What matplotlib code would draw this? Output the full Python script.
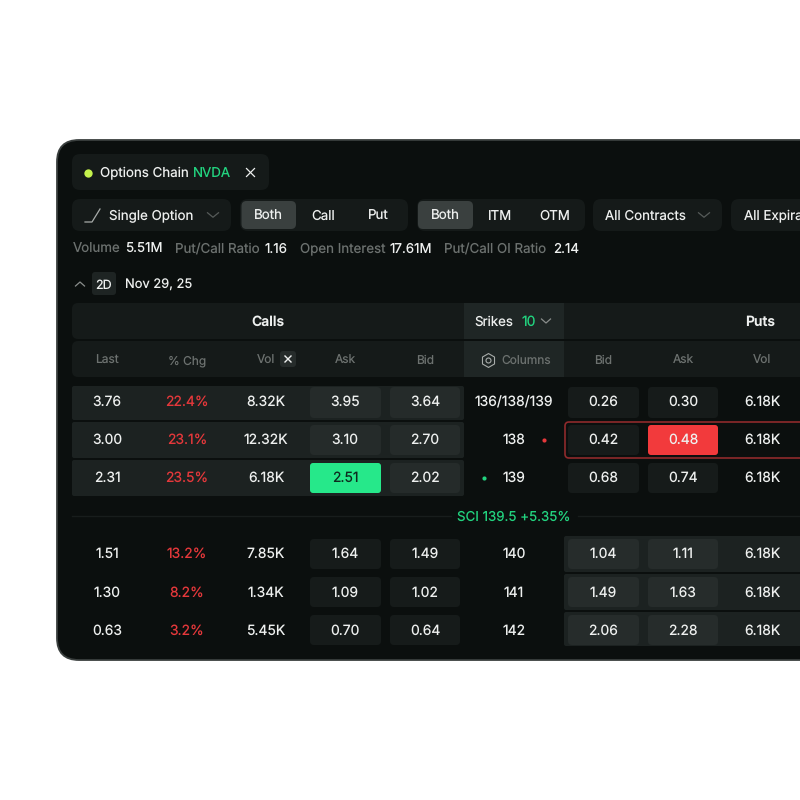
import matplotlib
matplotlib.use('Agg')
import matplotlib.pyplot as plt
from matplotlib.patches import FancyBboxPatch

plt.rcParams['font.family'] = ['Inter', 'DejaVu Sans']
plt.rcParams['text.hinting'] = 'no_hinting'
plt.rcParams['text.hinting_factor'] = 1

# table values
call_last = ['3.76', '3.00', '2.31', '1.51', '1.30', '0.63']
call_chg = ['22.4%', '23.1%', '23.5%', '13.2%', '8.2%', '3.2%']
call_vol = ['8.32K', '12.32K', '6.18K', '7.85K', '1.34K', '5.45K']
call_ask = ['3.95', '3.10', '2.51', '1.64', '1.09', '0.70']
call_bid = ['3.64', '2.70', '2.02', '1.49', '1.02', '0.64']
strikes = ['136/138/139', '138', '139', '140', '141', '142']
put_bid = ['0.26', '0.42', '0.68', '1.04', '1.49', '2.06']
put_ask = ['0.30', '0.48', '0.74', '1.11', '1.63', '2.28']
put_vol = ['6.18K', '6.18K', '6.18K', '6.18K', '6.18K', '6.18K']
call_heads = ['Last', '% Chg', 'Vol', 'Ask', 'Bid']
put_heads = ['Bid', 'Ask', 'Vol']
stat_names = ['Volume', 'Put/Call Ratio', 'Open Interest', 'Put/Call OI Ratio']
stat_vals = ['5.51M', '1.16', '17.61M', '2.14']

BG = '#0b0f0e'
BOX = '#151a19'
BAND = '#1c2221'
WHITE = '#eef0ef'
GREY = '#6c716f'
GREEN = '#22d37f'
RED = '#e5383b'

fs = 10.0
lab = 9.6

fig = plt.figure(figsize=(8, 8), dpi=100, facecolor='white')
ax = fig.add_axes([0, 0, 1, 1])
ax.set_xlim(0, 800)
ax.set_ylim(800, 0)
ax.axis('off')


def box(x0, y0, x1, y1, color, r=4, ec='none', lw=0, z=1):
    p = FancyBboxPatch((x0 + r, y0 + r), x1 - x0 - 2 * r, y1 - y0 - 2 * r,
                       boxstyle='round,pad=%g,rounding_size=%g' % (r, r),
                       fc=color, ec=ec, lw=lw, zorder=z)
    ax.add_patch(p)


def txt(x, y, s, color=WHITE, ha='center', size=fs, weight='normal'):
    ax.text(x, y, s, color=color, ha=ha, va='center_baseline', fontsize=size,
            fontweight=weight, zorder=6)


def chevron(x, y, w=5.5, h=4.5, color='#565b59', up=False):
    d = -h if up else h
    ax.plot([x - w, x, x + w], [y - d / 2, y + d / 2, y - d / 2], color=color, lw=0.9, zorder=6)


def cross(x, y, s=4, color=WHITE, lw=0.9):
    ax.plot([x - s, x + s], [y - s, y + s], color=color, lw=lw, zorder=6)
    ax.plot([x - s, x + s], [y + s, y - s], color=color, lw=lw, zorder=6)


# main panel
box(57, 140, 880, 660, BG, r=22, ec='#3a3f3e', lw=1.3)

# tab
box(72, 154, 269, 190, BOX, r=8)
ax.plot([88], [172.5], 'o', ms=6, color='#c4f24c', mec='none', zorder=6)
txt(100, 172.5, 'Options Chain', ha='left', size=lab)
txt(193, 172.5, 'NVDA', color=GREEN, ha='left', size=lab)
cross(250.5, 172.5)

# filter row
box(72, 199, 231, 231, BOX, r=8)
ax.plot([85, 92, 100], [222, 222, 209], color='#a8acaa', lw=0.9, zorder=6)
txt(109, 215, 'Single Option', ha='left', size=lab)
chevron(213, 215)
box(240, 199, 408, 231, BOX, r=8)
box(241.5, 201, 296, 229, '#3a403f', r=5)
txt(268.5, 215, 'Both', size=lab)
txt(323.5, 215, 'Call', size=lab)
txt(378.5, 215, 'Put', size=lab)
box(417, 199, 585, 231, BOX, r=8)
box(418, 201, 473, 229, '#3a403f', r=5)
txt(445.5, 215, 'Both', size=lab)
txt(500, 215, 'ITM', size=lab)
txt(555, 215, 'OTM', size=lab)
box(593, 199, 722, 231, BOX, r=8)
txt(605, 215, 'All Contracts', ha='left', size=lab)
chevron(704, 215)
box(731, 199, 900, 231, BOX, r=8)
txt(743.5, 215, 'All Expira', ha='left', size=lab)

# stats line
for x, s in zip([73, 175, 300, 444], stat_names):
    txt(x, 247.5, s, color=GREY, ha='left', size=lab)
for x, s in zip([125, 265, 390, 553], stat_vals):
    txt(x, 247.5, s, ha='left', size=lab)

# expiry line
chevron(80, 284, w=4.5, h=4, color='#8a8e8c', up=True)
box(92, 272, 116, 295, '#1e2423', r=3)
txt(104, 284, '2D', size=9)
txt(125, 283.5, 'Nov 29, 25', ha='left', size=9.3)

# header blocks
box(72, 303, 470, 339, BOX, r=6)
box(72, 341, 470, 377, BOX, r=6)
box(558, 303, 880, 339, BOX, r=2)
box(558, 341, 880, 377, BOX, r=2)
ax.fill_between([464, 564], 303, 339, color='#1f2625', lw=0, zorder=2)
ax.fill_between([464, 564], 341, 377, color='#1f2625', lw=0, zorder=2)
txt(268, 321, 'Calls', weight='semibold')
txt(760, 321, 'Puts', weight='semibold')
txt(474, 321, 'Srikes', ha='left', size=lab)
txt(521, 321, '10', color=GREEN, ha='left')
chevron(546, 321, w=4.5, h=4, color='#8a8e8c')

call_x = [107, 187, 266, 345, 425]
put_x = [603.5, 683, 762]
head_y = 359.5
for x, s in zip(call_x, call_heads):
    txt(x, head_y, s, color=GREY, size=8.6)
for x, s in zip(put_x, put_heads):
    txt(x, head_y, s, color=GREY, size=8.6)
box(280, 351, 296, 367, '#262c2b', r=3)
cross(288, 359, s=3, lw=1.0)

# columns button
ax.plot([488], [359.5], marker='h', ms=10, mfc='none', mec='#a8acaa', mew=0.8, zorder=6)
ax.plot([488], [359.5], 'o', ms=3.6, mfc='none', mec='#a8acaa', mew=0.8, zorder=6)
txt(501, 359.5, 'Columns', color=GREY, ha='left', size=8.6)

# row bands, itm calls on top and itm puts at the bottom
band_tops = [386, 422, 460, 536, 574, 612]
band_bots = [420, 458, 496, 572, 610, 646]
for i in range(3):
    box(72, band_tops[i], 464, band_bots[i], BAND, r=2, z=2)
for i in range(3, 6):
    box(564, band_tops[i], 880, band_bots[i], BAND, r=2, z=2)

# separator
ax.plot([72, 451], [516, 516], color='#181d1c', lw=1, zorder=2)
ax.plot([578, 800], [516, 516], color='#181d1c', lw=1, zorder=2)
txt(514, 515.5, 'SCI 139.5 +5.35%', color=GREEN, size=9.6)

# red selected row outline
box(565, 422, 880, 458, 'none', r=4, ec='#8f2a2c', lw=1.2, z=5)

row_y = [401, 439, 477, 553, 592, 630]
cell_tops = [387, 425, 463, 539, 577, 615]
cell_bots = [418, 455, 493, 569, 607, 645]
for i, y in enumerate(row_y):
    itm_call = i < 3
    c_cell = '#252b2a' if itm_call else '#161b1a'
    p_cell = '#161b1a' if itm_call else '#262c2b'
    txt(call_x[0], y, call_last[i])
    txt(call_x[1], y, call_chg[i], color=RED)
    txt(call_x[2], y, call_vol[i])
    # call ask
    if i == 2:
        box(310, cell_tops[i], 381, cell_bots[i], '#26e88a', r=3, z=3)
        txt(call_x[3], y, call_ask[i], color='#0d2a1e')
    else:
        box(310, cell_tops[i], 381, cell_bots[i], c_cell, r=4, z=3)
        txt(call_x[3], y, call_ask[i])
    box(390, cell_tops[i], 460, cell_bots[i], c_cell, r=4, z=3)
    txt(call_x[4], y, call_bid[i])
    txt(514, y, strikes[i])
    box(568, cell_tops[i], 639, cell_bots[i], p_cell, r=4, z=3)
    txt(put_x[0], y, put_bid[i])
    if i == 1:
        box(648, cell_tops[i], 718, cell_bots[i], '#f23a3c', r=3, z=3)
    else:
        box(648, cell_tops[i], 718, cell_bots[i], p_cell, r=4, z=3)
    txt(put_x[1], y, put_ask[i])
    txt(put_x[2], y, put_vol[i])

ax.plot([544], [439.5], 'o', ms=3, color=RED, mec='none', zorder=6)
ax.plot([484], [477.5], 'o', ms=3, color=GREEN, mec='none', zorder=6)

fig.savefig('out.png', dpi=100)
